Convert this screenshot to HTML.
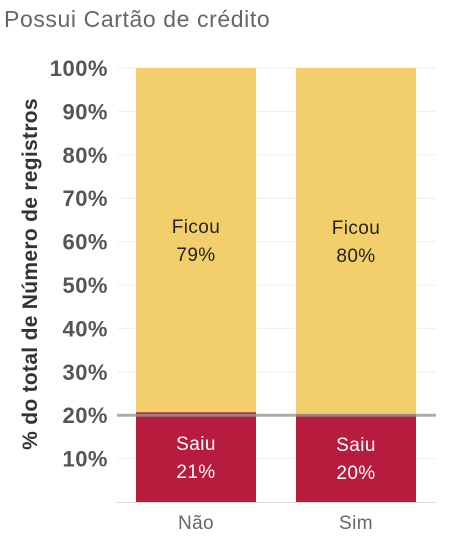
<!DOCTYPE html>
<html><head><meta charset="utf-8"><style>
body{margin:0;background:#fff;font-family:"Liberation Sans",sans-serif;}
</style></head><body>
<svg id="c" width="465" height="548" xmlns="http://www.w3.org/2000/svg">
<text x="4" y="27" font-size="23" fill="#666" letter-spacing="0.6">Possui Cartão  de crédito</text>
<text transform="translate(37,274) rotate(-90)" text-anchor="middle" font-size="21" font-weight="bold" fill="#333" letter-spacing="0.3">% do total de Número de registros</text>
<g id="g"></g>
</svg>
<script>
const categories=["Não","Sim"];
const saiu=[20.7,20.3];
const ficou=[79.3,79.7];
const saiuLabels=["21%","20%"];
const ficouLabels=["79%","80%"];
const ticks=[10,20,30,40,50,60,70,80,90,100];
const refValue=20;
const NS="http://www.w3.org/2000/svg";
const g=document.getElementById('g');
const y=v=>502-v*4.34;
const xs=i=>136+i*160;
function mk(t,a,txt){const e=document.createElementNS(NS,t);for(const k in a)e.setAttribute(k,a[k]);if(txt!==undefined)e.textContent=txt;g.appendChild(e);return e;}
ticks.forEach(t=>{
 const l=mk('line',{x1:118,x2:436,y1:y(t),y2:y(t),stroke:'#eee','stroke-width':1});
 
 
 const tx=mk('text',{x:108,y:y(t)+8,'text-anchor':'end','font-size':22,fill:'#555','font-weight':'bold','letter-spacing':0.5},t+'%');
 
 
});
const ax=mk('line',{x1:116,x2:436,y1:502.5,y2:502.5,stroke:'#ddd'});


categories.forEach((c,i)=>{
 const x=xs(i);
 const r=mk('rect',{x:x,y:y(saiu[i]),width:120,height:y(0)-y(saiu[i]),fill:'#b71c3f'});
 
 
 const f=mk('rect',{x:x,y:y(saiu[i]+ficou[i]),width:120,height:y(saiu[i])-y(saiu[i]+ficou[i]),fill:'#f2cf6b'});
 
 
 const fm=(y(saiu[i])+y(saiu[i]+ficou[i]))/2, sm=(y(0)+y(saiu[i]))/2;
 [['Ficou',fm-7,'#222','ficou-label'],[ficouLabels[i],fm+21,'#222','ficou-value'],['Saiu',sm-7,'#fff','saiu-label'],[saiuLabels[i],sm+21,'#fff','saiu-value']].forEach(a=>{
  const t=mk('text',{x:x+60,y:a[1],'text-anchor':'middle','font-size':19,fill:a[2],'letter-spacing':0.4},a[0]);
  
  
 });
 const xl=mk('text',{x:x+60,y:529,'text-anchor':'middle','font-size':19,fill:'#666','letter-spacing':0.4},c);
 
 
});
const ref=mk('line',{x1:117,x2:436,y1:y(refValue),y2:y(refValue),stroke:'#999','stroke-width':3,'stroke-opacity':0.8});


</script>
</body></html>
